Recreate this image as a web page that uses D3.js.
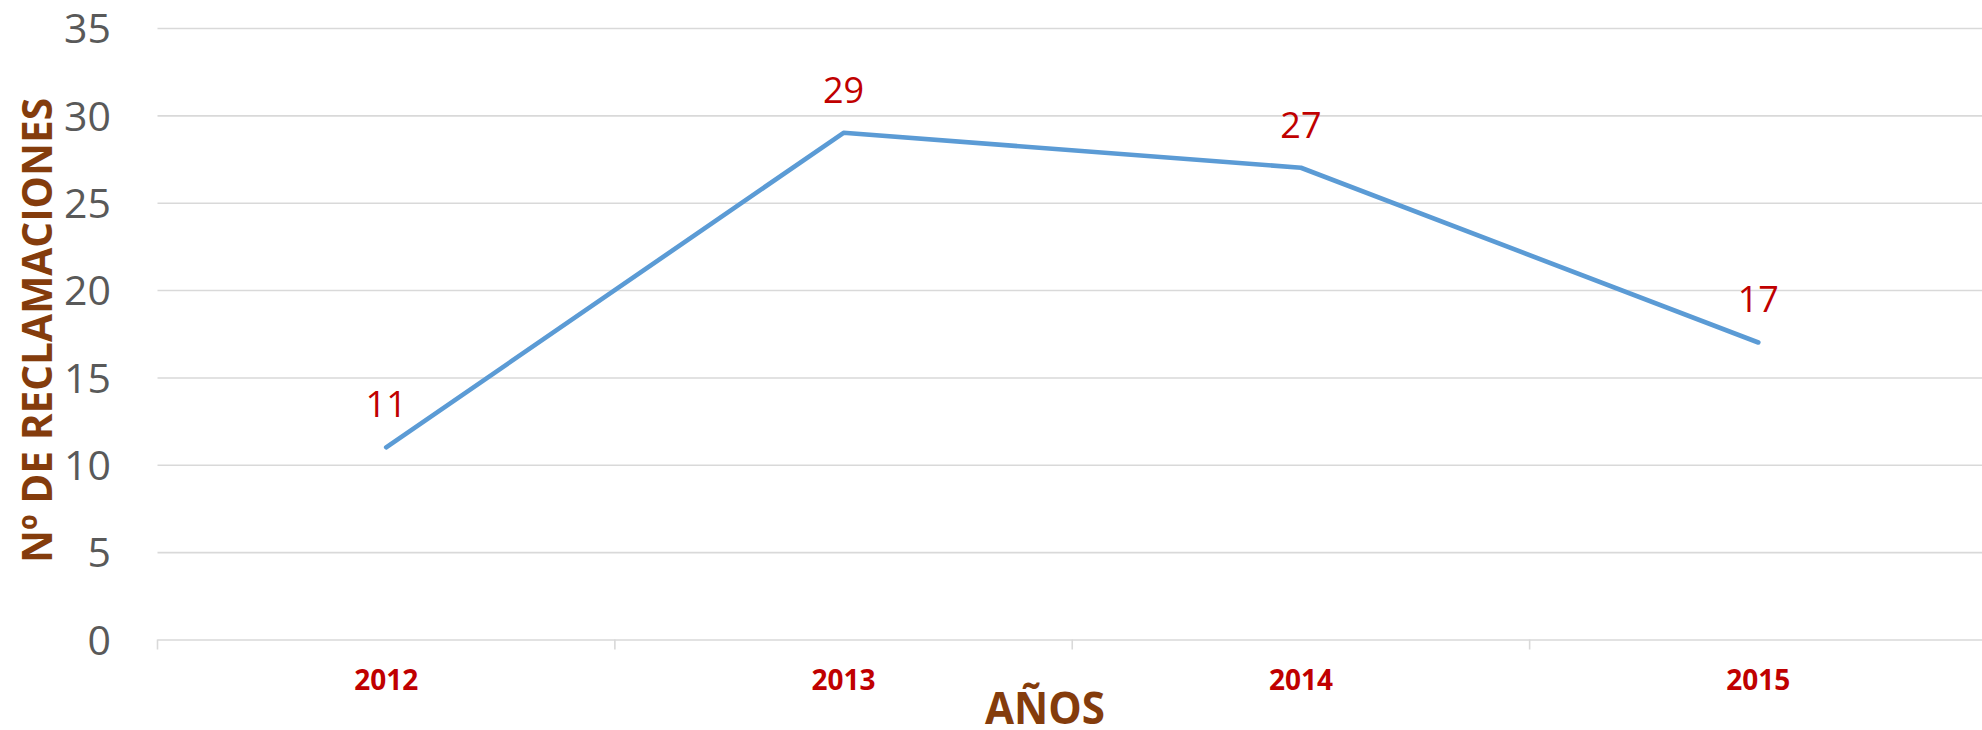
<!DOCTYPE html>
<html>
<head>
<meta charset="utf-8">
<script src="https://cdn.jsdelivr.net/npm/d3@7"></script>
<style>
  body { margin: 0; background: #fff; }
  svg { display: block; font-family: "Open Sans", sans-serif; }
</style>
</head>
<body>
<div id="chart"></div>
<script>
"use strict";

// Data
const years = ["2012", "2013", "2014", "2015"];
const reclamaciones = [11, 29, 27, 17];
const yTicks = [0, 5, 10, 15, 20, 25, 30, 35];

const width = 1982, height = 730;
const plotLeft = 157.5, plotRight = 1987, plotTop = 28, plotBottom = 639.5;

const x = d3.scaleBand(years, [plotLeft, plotRight]);
const y = d3.scaleLinear([0, 35], [plotBottom, plotTop]);
const cx = d => x(d) + x.bandwidth() / 2;

const svg = d3.select("#chart").append("svg")
    .attr("width", width)
    .attr("height", height)
    .attr("viewBox", [0, 0, width, height]);

// gridlines + y labels
svg.append("g")
    .call(d3.axisLeft(y).tickValues(yTicks).tickSize(0).tickPadding(0))
    .call(g => g.select(".domain").remove())
    .call(g => g.selectAll(".tick line")
        .attr("x1", plotLeft).attr("x2", width)
        .attr("stroke", "#d9d9d9").attr("stroke-width", 1.6))
    .call(g => g.selectAll(".tick text")
        .attr("x", 111)
        .attr("dy", "0.36em")
        .attr("fill", "#595959")
        .attr("font-size", 41)
        .attr("font-family", "Open Sans, sans-serif"));

// small ticks at the category boundaries
svg.append("g")
    .selectAll("line")
    .data(years)
    .join("line")
    .attr("x1", d => x(d))
    .attr("x2", d => x(d))
    .attr("y1", plotBottom)
    .attr("y2", plotBottom + 10)
    .attr("stroke", "#d9d9d9")
    .attr("stroke-width", 1.6);

svg.append("g")
    .selectAll("text")
    .data(years)
    .join("text")
    .attr("x", d => cx(d))
    .attr("y", 690)
    .attr("text-anchor", "middle")
    .attr("fill", "#c00000")
    .attr("font-weight", "bold")
    .attr("font-size", 28)
    .text(d => d);

// the line
const line = d3.line()
    .x((d, i) => cx(years[i]))
    .y(d => y(d));

svg.append("path")
    .attr("fill", "none")
    .attr("stroke", "#5b9bd5")
    .attr("stroke-width", 4.6)
    .attr("stroke-linecap", "round")
    .attr("stroke-linejoin", "round")
    .attr("d", line(reclamaciones));

// data labels
svg.append("g")
    .selectAll("text")
    .data(reclamaciones)
    .join("text")
    .attr("x", (d, i) => cx(years[i]))
    .attr("y", d => y(d) - 30)
    .attr("text-anchor", "middle")
    .attr("fill", "#c00000")
    .attr("font-size", 36)
    .text(d => d);

// axis titles
svg.append("text")
    .attr("transform", "translate(52,330.5) rotate(-90)")
    .attr("text-anchor", "middle")
    .attr("fill", "#843c0c")
    .attr("font-weight", "bold")
    .attr("font-size", 42)
    .attr("textLength", 465)
    .attr("lengthAdjust", "spacingAndGlyphs")
    .text("Nº DE RECLAMACIONES");

svg.append("text")
    .attr("x", 1045)
    .attr("y", 724)
    .attr("text-anchor", "middle")
    .attr("fill", "#843c0c")
    .attr("font-weight", "bold")
    .attr("font-size", 44)
    .attr("textLength", 120)
    .attr("lengthAdjust", "spacingAndGlyphs")
    .text("AÑOS");
</script>
</body>
</html>
